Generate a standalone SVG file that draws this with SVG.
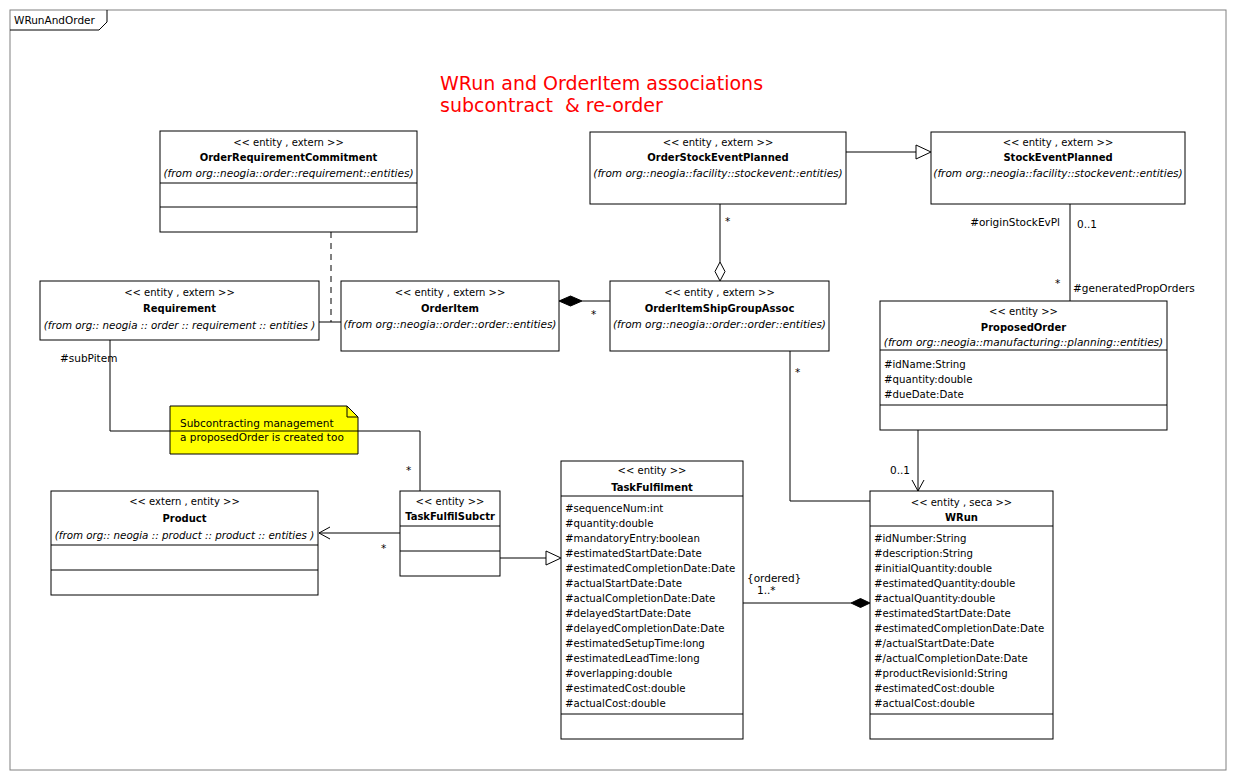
<svg xmlns="http://www.w3.org/2000/svg" width="1236" height="780" viewBox="0 0 1236 780">
<style>
text{font-family:"DejaVu Sans","Liberation Sans",sans-serif;fill:#000}
.box{fill:#fff;stroke:#000;stroke-width:1}
.sep{stroke:#000;stroke-width:1}
.st{font-size:10px;text-anchor:middle}
.nm{font-size:10px;font-weight:bold;text-anchor:middle}
.fr{font-size:10.5px;font-style:italic;text-anchor:middle}
.at{font-size:10.2px}
.lb{font-size:10.5px}
.ln{fill:none;stroke:#000;stroke-width:1}
.title{font-size:19px;fill:#ff0000;white-space:pre}
</style>
<rect x="0" y="0" width="1236" height="780" fill="#fff"/>
<g id="frame">
<rect x="10" y="10" width="1216" height="760" fill="none" stroke="#808080"/>
<path d="M10,30 H99 L107,22 V10" fill="none" stroke="#000"/>
<text x="14" y="24" class="lb">WRunAndOrder</text>
</g>
<g id="title">
<text x="440" y="90" class="title">WRun and OrderItem associations</text>
<text x="440" y="112" class="title" xml:space="preserve">subcontract  &amp; re-order</text>
</g>
<g id="note">
<path d="M170,406 H347 L358,417 V454 H170 Z" fill="#ffff00" stroke="#000"/>
<path d="M347,406 V417 H358" fill="none" stroke="#000"/>
<text x="180" y="427" class="lb">Subcontracting management</text>
<text x="180" y="441" class="lb">a proposedOrder is created too</text>
</g>
<g id="OrderRequirementCommitment">
<rect x="160" y="131" width="257" height="101" class="box"/>
<line x1="160" y1="183" x2="417" y2="183" class="sep"/>
<line x1="160" y1="207" x2="417" y2="207" class="sep"/>
<text x="288.5" y="146" class="st">&lt;&lt; entity , extern &gt;&gt;</text>
<text x="288.5" y="161" class="nm">OrderRequirementCommitment</text>
<text x="288.5" y="177" class="fr">(from  org::neogia::order::requirement::entities)</text>
</g>
<g id="OrderStockEventPlanned">
<rect x="590" y="132" width="256" height="72" class="box"/>
<text x="718" y="146" class="st">&lt;&lt; entity , extern &gt;&gt;</text>
<text x="718" y="161" class="nm">OrderStockEventPlanned</text>
<text x="718" y="177" class="fr">(from  org::neogia::facility::stockevent::entities)</text>
</g>
<g id="StockEventPlanned">
<rect x="931" y="132" width="254" height="72" class="box"/>
<text x="1058" y="146" class="st">&lt;&lt; entity , extern &gt;&gt;</text>
<text x="1058" y="161" class="nm">StockEventPlanned</text>
<text x="1058" y="177" class="fr">(from  org::neogia::facility::stockevent::entities)</text>
</g>
<g id="Requirement">
<rect x="40" y="281" width="279" height="59" class="box"/>
<text x="179.5" y="296" class="st">&lt;&lt; entity  , extern &gt;&gt;</text>
<text x="179.5" y="312" class="nm">Requirement</text>
<text x="179.5" y="329" class="fr" style="font-size:10.3px">(from  org:: neogia :: order :: requirement  :: entities )</text>
</g>
<g id="OrderItem">
<rect x="341" y="281" width="218" height="70" class="box"/>
<text x="450" y="296" class="st">&lt;&lt; entity , extern &gt;&gt;</text>
<text x="450" y="312" class="nm">OrderItem</text>
<text x="450" y="328" class="fr">(from  org::neogia::order::order::entities)</text>
</g>
<g id="OrderItemShipGroupAssoc">
<rect x="610" y="281" width="219" height="70" class="box"/>
<text x="719.5" y="296" class="st">&lt;&lt; entity , extern &gt;&gt;</text>
<text x="719.5" y="312" class="nm">OrderItemShipGroupAssoc</text>
<text x="719.5" y="328" class="fr">(from  org::neogia::order::order::entities)</text>
</g>
<g id="ProposedOrder">
<rect x="880" y="301" width="287" height="129" class="box"/>
<line x1="880" y1="350" x2="1167" y2="350" class="sep"/>
<line x1="880" y1="405" x2="1167" y2="405" class="sep"/>
<text x="1023.5" y="315" class="st">&lt;&lt; entity &gt;&gt;</text>
<text x="1023.5" y="331" class="nm">ProposedOrder</text>
<text x="1023.5" y="346" class="fr">(from  org::neogia::manufacturing::planning::entities)</text>
<text x="884" y="368" class="at">#idName:String</text>
<text x="884" y="383" class="at">#quantity:double</text>
<text x="884" y="398" class="at">#dueDate:Date</text>
</g>
<g id="Product">
<rect x="51" y="491" width="267" height="104" class="box"/>
<line x1="51" y1="545" x2="318" y2="545" class="sep"/>
<line x1="51" y1="570" x2="318" y2="570" class="sep"/>
<text x="184.5" y="505" class="st">&lt;&lt; extern  , entity &gt;&gt;</text>
<text x="184.5" y="522" class="nm">Product</text>
<text x="184.5" y="539" class="fr" style="font-size:10.3px">(from  org:: neogia :: product :: product :: entities )</text>
</g>
<g id="TaskFulfilSubctr">
<rect x="400" y="491" width="100" height="85" class="box"/>
<line x1="400" y1="526" x2="500" y2="526" class="sep"/>
<line x1="400" y1="551" x2="500" y2="551" class="sep"/>
<text x="450" y="505" class="st">&lt;&lt; entity &gt;&gt;</text>
<text x="450" y="520" class="nm">TaskFulfilSubctr</text>
</g>
<g id="TaskFulfilment">
<rect x="561" y="461" width="182" height="278" class="box"/>
<line x1="561" y1="496" x2="743" y2="496" class="sep"/>
<line x1="561" y1="714" x2="743" y2="714" class="sep"/>
<text x="652" y="474" class="st">&lt;&lt; entity &gt;&gt;</text>
<text x="652" y="491" class="nm">TaskFulfilment</text>
<text x="565" y="512" class="at">#sequenceNum:int</text>
<text x="565" y="527" class="at">#quantity:double</text>
<text x="565" y="542" class="at">#mandatoryEntry:boolean</text>
<text x="565" y="557" class="at">#estimatedStartDate:Date</text>
<text x="565" y="572" class="at">#estimatedCompletionDate:Date</text>
<text x="565" y="587" class="at">#actualStartDate:Date</text>
<text x="565" y="602" class="at">#actualCompletionDate:Date</text>
<text x="565" y="617" class="at">#delayedStartDate:Date</text>
<text x="565" y="632" class="at">#delayedCompletionDate:Date</text>
<text x="565" y="647" class="at">#estimatedSetupTime:long</text>
<text x="565" y="662" class="at">#estimatedLeadTime:long</text>
<text x="565" y="677" class="at">#overlapping:double</text>
<text x="565" y="692" class="at">#estimatedCost:double</text>
<text x="565" y="707" class="at">#actualCost:double</text>
</g>
<g id="WRun">
<rect x="870" y="491" width="183" height="248" class="box"/>
<line x1="870" y1="526" x2="1053" y2="526" class="sep"/>
<line x1="870" y1="714" x2="1053" y2="714" class="sep"/>
<text x="961.5" y="506" class="st">&lt;&lt; entity , seca &gt;&gt;</text>
<text x="961.5" y="521" class="nm">WRun</text>
<text x="874" y="542" class="at">#idNumber:String</text>
<text x="874" y="557" class="at">#description:String</text>
<text x="874" y="572" class="at">#initialQuantity:double</text>
<text x="874" y="587" class="at">#estimatedQuantity:double</text>
<text x="874" y="602" class="at">#actualQuantity:double</text>
<text x="874" y="617" class="at">#estimatedStartDate:Date</text>
<text x="874" y="632" class="at">#estimatedCompletionDate:Date</text>
<text x="874" y="647" class="at">#/actualStartDate:Date</text>
<text x="874" y="662" class="at">#/actualCompletionDate:Date</text>
<text x="874" y="677" class="at">#productRevisionId:String</text>
<text x="874" y="692" class="at">#estimatedCost:double</text>
<text x="874" y="707" class="at">#actualCost:double</text>
</g>
<g id="connectors">
<line x1="846" y1="152" x2="916" y2="152" class="ln"/>
<polygon points="931,152 916,145 916,159" fill="#fff" stroke="#000"/>
<line x1="319" y1="322" x2="341" y2="322" class="ln"/>
<line x1="331" y1="232" x2="331" y2="322" class="ln" stroke-dasharray="6,5"/>
<line x1="582" y1="301" x2="610" y2="301" class="ln"/>
<polygon points="559,301 570.5,296 582,301 570.5,306" fill="#000" stroke="#000"/>
<text x="591" y="318" class="lb">*</text>
<line x1="720" y1="204" x2="720" y2="262" class="ln"/>
<polygon points="720,262 725,271.5 720,281 715,271.5" fill="#fff" stroke="#000"/>
<text x="725" y="225" class="lb">*</text>
<line x1="1070" y1="204" x2="1070" y2="301" class="ln"/>
<text x="1060" y="226" class="lb" text-anchor="end">#originStockEvPl</text>
<text x="1077" y="228" class="lb">0..1</text>
<text x="1055" y="287" class="lb">*</text>
<text x="1073" y="292" class="lb">#generatedPropOrders</text>
<line x1="918" y1="430" x2="918" y2="491" class="ln"/>
<polyline points="912,480 918,491 924,480" class="ln"/>
<text x="890" y="474" class="lb">0..1</text>
<polyline points="790,351 790,501 870,501" class="ln"/>
<text x="795" y="376" class="lb">*</text>
<line x1="743" y1="603" x2="851" y2="603" class="ln"/>
<polygon points="851,603 860.5,598.5 870,603 860.5,607.5" fill="#000" stroke="#000"/>
<text x="747" y="582" class="lb">{ordered}</text>
<text x="757" y="594" class="lb">1..*</text>
<line x1="500" y1="558" x2="546" y2="558" class="ln"/>
<polygon points="561,558 546,551 546,565" fill="#fff" stroke="#000"/>
<line x1="400" y1="533" x2="319" y2="533" class="ln"/>
<polyline points="330,527 319,533 330,539" class="ln"/>
<text x="381" y="552" class="lb">*</text>
<polyline points="110,340 110,431 420,431 420,491" class="ln"/>
<text x="60" y="362" class="lb">#subPitem</text>
<text x="406" y="474" class="lb">*</text>
</g>
</svg>
